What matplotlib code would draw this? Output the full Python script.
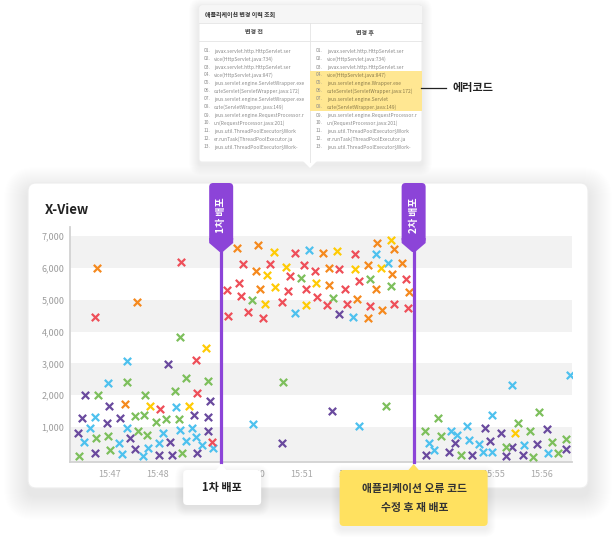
import numpy as np
import matplotlib.pyplot as plt
import matplotlib.transforms as mtransforms
from matplotlib.patches import FancyBboxPatch, Polygon, Rectangle
from matplotlib.lines import Line2D

plt.rcParams['font.family'] = ['Noto Sans CJK KR', 'DejaVu Sans']

# response time samples (minute of 15h, ms) per colour group
purple_t = [46.48, 46.98, 46.41, 46.95, 47.22, 48.75, 49.04, 46.34, 49.05, 47.43, 48.26, 46.70, 47.53,
            48.03, 48.29, 48.82, 48.21, 49.08, 51.77, 51.63, 50.58, 54.81, 55.16, 56.11, 54.20, 54.92,
            55.37, 55.91, 53.59, 54.07, 54.55, 55.25, 55.60, 56.51]
purple_v = [2010, 1664, 1284, 1136, 1273, 1368, 1316, 800, 883, 640, 535, 198, 304,
            135, 125, 177, 2972, 1811, 4555, 1495, 493, 978, 810, 936, 504, 567,
            377, 461, 114, 219, 114, 93, 125, 314]

green_t = [48.47, 47.35, 48.58, 49.05, 46.75, 47.74, 48.35, 47.52, 47.72, 47.96, 48.18, 48.44, 46.72,
           46.97, 47.58, 47.78, 46.35, 47.00, 48.50, 50.98, 52.43, 52.86, 49.97, 51.66, 50.61, 52.76,
           55.95, 53.84, 53.57, 53.91, 55.51, 55.76, 55.26, 56.21, 56.51, 54.31, 55.82, 56.34]
green_v = [3826, 2402, 2540, 2445, 2010, 2010, 2117, 1358, 1368, 1168, 1242, 1242, 640,
           704, 883, 736, 103, 283, 198, 5672, 5640, 5440, 4997, 5060, 2403, 1674,
           1464, 1285, 883, 725, 1116, 883, 377, 514, 630, 114, 61, 177]

blue_t = [47.35, 46.97, 48.38, 46.69, 46.59, 46.46, 47.35, 48.11, 48.46, 48.72, 47.20, 48.59, 48.80,
          48.92, 49.15, 47.26, 47.70, 47.80, 48.02, 51.16, 52.54, 52.80, 50.86, 52.06, 49.99, 52.20,
          56.58, 55.37, 54.97, 54.10, 54.24, 54.45, 53.64, 53.76, 54.49, 54.70, 55.62, 54.77, 54.96, 56.14]
blue_v = [3077, 2381, 1622, 1326, 957, 514, 957, 820, 894, 957, 483, 556, 693,
          420, 325, 167, 83, 346, 483, 6558, 6442, 6167, 4586, 4460, 1095, 1021,
          2645, 2329, 1380, 872, 735, 1021, 483, 293, 598, 461, 440, 219, 219, 198]

orange_t = [46.73, 47.57, 47.31, 49.64, 50.08, 51.44, 52.56, 52.93, 50.04, 51.56, 52.38, 53.09, 52.87,
            50.12, 51.57, 52.55, 53.23, 52.16, 52.67, 52.37]
orange_v = [6000, 4920, 1738, 6642, 6737, 6484, 6800, 6610, 5904, 6009, 6104, 6167, 5809,
            5345, 5472, 5334, 5261, 5039, 4671, 4439]

red_t = [46.69, 48.48, 48.79, 48.82, 48.04, 49.12, 50.86, 52.10, 49.77, 50.33, 51.04, 51.27, 51.78,
         50.75, 52.19, 53.18, 49.44, 49.69, 50.72, 51.09, 51.90, 49.73, 50.59, 51.31, 51.52, 51.94,
         52.42, 52.92, 53.21, 49.47, 49.87, 50.20]
red_v = [4460, 6200, 3098, 2064, 1570, 535, 6484, 6452, 6115, 6115, 6104, 5893, 5967,
         5757, 5598, 5661, 5324, 5524, 5292, 5355, 5355, 5134, 4923, 5102, 4850, 4881,
         4797, 4881, 4734, 4502, 4628, 4418]

yellow_t = [49.00, 47.83, 48.64, 50.43, 51.74, 52.86, 50.27, 50.67, 52.10, 52.64, 50.45, 51.29,
            50.23, 51.09, 55.44]
yellow_v = [3478, 1654, 1664, 6494, 6547, 6874, 5767, 6020, 5957, 6009, 5408, 5535,
            4881, 4839, 810]

tick_minutes = [47, 48, 49, 50, 51, 52, 53, 54, 55, 56]
tick_labels = ['15:%02d' % m for m in tick_minutes]
y_ticks = [1000, 2000, 3000, 4000, 5000, 6000, 7000]
deploy_times = [49.32, 53.33]
deploy_tags = ['1차 배포', '2차 배포']

stack_before = ['javax.servlet.http.HttpServlet.ser', 'vice(HttpServlet.java:734)',
                'javax.servlet.http.HttpServlet.ser', 'vice(HttpServlet.java:847)',
                'jeus.servlet.engine.ServletWrapper.exe', 'cuteServlet(ServletWrapper.java:172)',
                'jeus.servlet.engine.ServletWrapper.exe', 'cute(ServletWrapper.java:149)',
                'jeus.servlet.engine.RequestProcessor.r', 'un(RequestProcessor.java:201)',
                'jeus.util.ThreadPoolExecutor$Work', 'er.runTask(ThreadPoolExecutor.ja',
                'jeus.util.ThreadPoolExecutor$Work-']
stack_after = ['javax.servlet.http.HttpServlet.ser', 'vice(HttpServlet.java:734)',
               'javax.servlet.http.HttpServlet.ser', 'vice(HttpServlet.java:847)',
               'jeus.servlet.engine.Wrapper.exe', 'cuteServlet(ServletWrapper.java:172)',
               'jeus.servlet.engine.Servlet', 'cute(ServletWrapper.java:149)',
               'jeus.servlet.engine.RequestProcessor.r', 'un(RequestProcessor.java:201)',
               'jeus.util.ThreadPoolExecutor$Work', 'er.runTask(ThreadPoolExecutor.ja',
               'jeus.util.ThreadPoolExecutor$Work-']
changed_rows = [3, 4, 5, 6, 7]

W, H = 615, 539
fig = plt.figure(figsize=(W / 100, H / 100), dpi=100)
fig.patch.set_facecolor('white')
# pixel coords, origin top-left
PX = mtransforms.Affine2D().scale(1 / W, -1 / H).translate(0, 1) + fig.transFigure

PURPLE = '#8C44D8'


def box(x, y, w, h, r, fc, ec='none', z=1, shadow=0, alpha=0.005, dy=4, lw=0.8):
    for k in range(shadow, 0, -1):
        fig.patches.append(FancyBboxPatch((x - k, y - k + dy), w + 2 * k, h + 2 * k,
                                          boxstyle='round,pad=0,rounding_size=%g' % (r + k),
                                          transform=PX, fc='black', ec='none',
                                          alpha=alpha, zorder=z - 0.5))
    fig.patches.append(FancyBboxPatch((x, y), w, h, boxstyle='round,pad=0,rounding_size=%g' % r,
                                      transform=PX, fc=fc, ec=ec, lw=lw, zorder=z))


def tri(pts, fc, z):
    fig.patches.append(Polygon(pts, closed=True, transform=PX, fc=fc, ec='none', zorder=z))


def txt(x, y, s, **kw):
    fig.text(x / W, 1 - y / H, s, **kw)


# card
box(28, 183, 560, 305, 8, 'white', ec='#ededed', z=-3, shadow=24, alpha=0.0045, dy=8)

ax = fig.add_axes([70 / W, 1 - 462 / H, (572 - 70) / W, (462 - 227) / H])
ax.patch.set_visible(False)
ax.set_xlim(46.17, 56.63)
ax.set_ylim(-100, 7290)
for lo, hi in [(-100, 1000), (2000, 3000), (4000, 5000), (6000, 7000)]:
    ax.axhspan(lo, hi, color='#f2f2f2', lw=0, zorder=0)

series = [(purple_t, purple_v, '#6A4A9E'), (green_t, green_v, '#7DBF5C'),
          (blue_t, blue_v, '#4EC1EE'), (orange_t, orange_v, '#F5891E'),
          (red_t, red_v, '#EE4F59'), (yellow_t, yellow_v, '#FFCB05')]
for t, v, c in series:
    ax.scatter(t, v, marker='x', s=28, linewidths=1.6, color=c, zorder=3)

ax.set_xticks(tick_minutes)
ax.set_xticklabels(tick_labels)
ax.set_yticks(y_ticks)
ax.set_yticklabels(['{:,}'.format(v) for v in y_ticks])
ax.tick_params(axis='x', length=0, pad=6, labelsize=6.5, labelcolor='#a8a8a8')
ax.tick_params(axis='y', length=0, pad=4, labelsize=6.5, labelcolor='#9c9c9c')
for s in ['top', 'right']:
    ax.spines[s].set_visible(False)
for s in ['left', 'bottom']:
    ax.spines[s].set_color('#d2d2d2')
    ax.spines[s].set_linewidth(1.3)

txt(45, 210, 'X-View', fontsize=9.5, fontweight='bold', color='#222222', va='center')

# deploy markers
for t, label in zip(deploy_times, deploy_tags):
    xc = ax.transData.transform((t, 0))[0]
    fig.lines.append(Line2D([xc, xc], [248, 462], transform=PX, color=PURPLE, lw=2.3, zorder=5))
    fig.patches.append(FancyBboxPatch((xc - 12, 183), 24, 60, boxstyle='round,pad=0,rounding_size=4',
                                      transform=PX, fc=PURPLE, ec='none', zorder=5))
    tri([(xc - 12, 238), (xc + 12, 238), (xc + 12, 243), (xc + 1.5, 252), (xc - 1.5, 252),
         (xc - 12, 243)], PURPLE, 5)
    txt(xc, 215, label, rotation=90, fontsize=7.2, fontweight='bold', color='white',
        ha='center', va='center', zorder=6)

# callouts under the deploy lines
x1 = ax.transData.transform((deploy_times[0], 0))[0]
x2 = ax.transData.transform((deploy_times[1], 0))[0]
box(x1 - 38, 470, 78, 35, 4, 'white', z=7, shadow=8, alpha=0.006, dy=3)
tri([(x1 - 6, 471), (x1 + 6, 471), (x1, 464)], 'white', 7)
txt(x1 + 1, 488, '1차 배포', fontsize=8, fontweight='bold', color='#222222',
    ha='center', va='center', zorder=8)
box(x2 - 74, 470, 148, 56, 4, '#FFE160', z=7, shadow=8, alpha=0.006, dy=3)
tri([(x2 - 6, 471), (x2 + 6, 471), (x2, 464)], '#FFE160', 7)
txt(x2 + 1, 489, '애플리케이션 오류 코드', fontsize=7.8, fontweight='bold', color='#333333',
    ha='center', va='center', zorder=8)
txt(x2 + 1, 508, '수정 후 재 배포', fontsize=7.8, fontweight='bold', color='#333333',
    ha='center', va='center', zorder=8)

# change-history popup
box(199, 5, 223, 157, 3, 'white', ec='#eeeeee', z=2, shadow=10, alpha=0.006, dy=3)
tri([(303, 161), (317, 161), (310, 168)], 'white', 2)
fig.patches.append(Rectangle((199.5, 5.5), 222, 17.5, transform=PX, fc='#f6f6f6', ec='none', zorder=2.1))
fig.lines.append(Line2D([199, 422], [23, 23], transform=PX, color='#e4e4e4', lw=0.6, zorder=2.2))
fig.lines.append(Line2D([199, 422], [41, 41], transform=PX, color='#e4e4e4', lw=0.6, zorder=2.2))
fig.lines.append(Line2D([309.5, 309.5], [23, 162], transform=PX, color='#e4e4e4', lw=0.6, zorder=2.2))
txt(205, 15, '애플리케이션 변경 이력 조회', fontsize=4.3, fontweight='bold', color='#333333',
    va='center', zorder=3)
txt(254, 32, '변경 전', fontsize=4.3, fontweight='bold', color='#444444', ha='center', va='center', zorder=3)
txt(365, 32, '변경 후', fontsize=4.3, fontweight='bold', color='#444444', ha='center', va='center', zorder=3)
fig.patches.append(Rectangle((310, 71), 111.5, 40, transform=PX, fc='#FFE792', ec='none', zorder=2.3))
for i, (a, b) in enumerate(zip(stack_before, stack_after)):
    y = 51 + 8 * i
    num = '%02d.' % (i + 1)
    txt(204, y, num, fontsize=3.5, color='#8a8a8a', va='center', zorder=3)
    txt(214, y, a, fontsize=3.5, color='#8a8a8a', va='center', zorder=3)
    txt(316, y, num, fontsize=3.5, color='#8a8a8a', va='center', zorder=3)
    txt(327, y, b, fontsize=3.5, color='#8a7a4a' if i in changed_rows else '#8a8a8a',
        va='center', zorder=3)

fig.lines.append(Line2D([421, 446], [88, 88], transform=PX, color='#222222', lw=0.9, zorder=3))
txt(452, 88, '에러코드', fontsize=8, fontweight='bold', color='#222222', va='center', zorder=3)

fig.savefig('out.png', dpi=100)
